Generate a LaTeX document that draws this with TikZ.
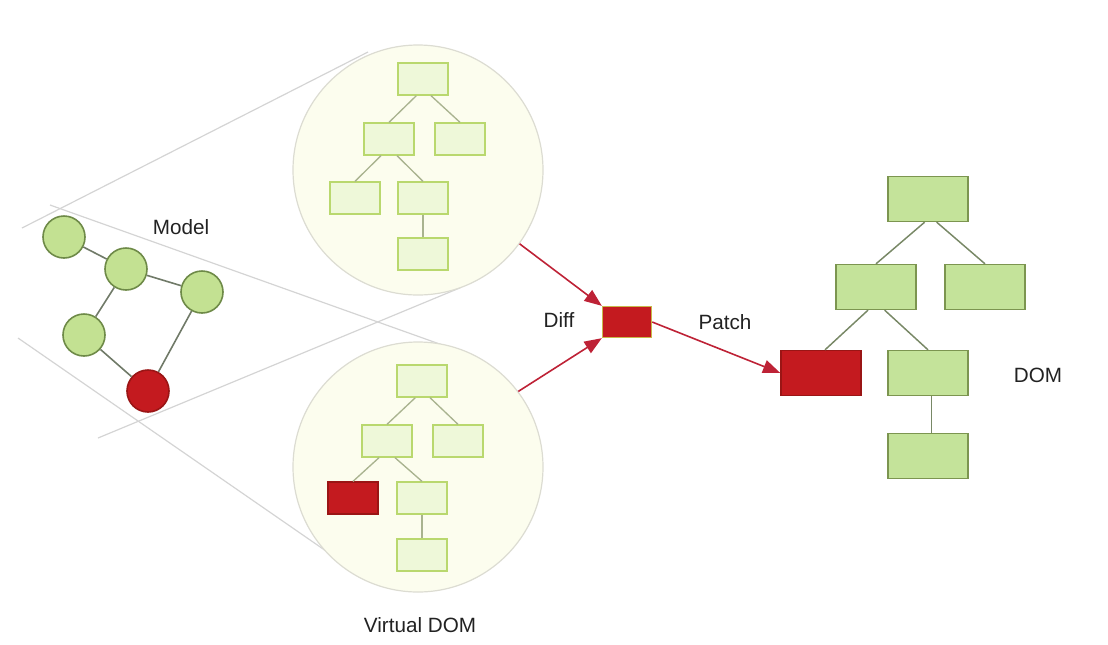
\documentclass[tikz,border=0pt]{standalone}
\usepackage{fontspec}
\setmainfont{Liberation Sans}
\usetikzlibrary{arrows.meta}
\definecolor{conegray}{HTML}{D4D4D4}
\definecolor{circgray}{HTML}{DCDCD2}
\definecolor{circfill}{HTML}{FCFDEE}
\definecolor{vborder}{HTML}{B9D86E}
\definecolor{vfill}{HTML}{EEF8D9}
\definecolor{vedgecol}{HTML}{A9B38F}
\definecolor{redfill}{HTML}{C41A1F}
\definecolor{redborder}{HTML}{9A1515}
\definecolor{dborder}{HTML}{7C9550}
\definecolor{dfill}{HTML}{C4E39A}
\definecolor{dedgecol}{HTML}{788866}
\definecolor{mborder}{HTML}{6E8A48}
\definecolor{mfill}{HTML}{C3E192}
\definecolor{medgecol}{HTML}{707A68}
\definecolor{arrowcol}{HTML}{BE2236}
\definecolor{diffborder}{HTML}{C8B84A}
\definecolor{textcol}{HTML}{222222}
\begin{document}
\begin{tikzpicture}[x=0.75pt,y=-0.75pt,
  cone/.style={draw=conegray, line width=0.9pt},
  bigcirc/.style={circle, draw=circgray, fill=circfill, line width=0.9pt, minimum size=187.5pt, inner sep=0pt},
  vbox/.style={rectangle, draw=vborder, fill=vfill, line width=1pt, minimum width=37.5pt, minimum height=24pt, inner sep=0pt},
  vred/.style={vbox, draw=redborder, fill=redfill},
  dbox/.style={rectangle, draw=dborder, fill=dfill, line width=1pt, minimum width=60pt, minimum height=33.75pt, inner sep=0pt},
  dred/.style={dbox, draw=redborder, fill=redfill},
  mnode/.style={circle, draw=mborder, fill=mfill, line width=1.2pt, minimum size=31.5pt, inner sep=0pt},
  mred/.style={mnode, draw=redborder, fill=redfill},
  medge/.style={draw=medgecol, line width=1.2pt},
  vedge/.style={draw=vedgecol, line width=1pt},
  dedge/.style={draw=dedgecol, line width=1.1pt},
  flow/.style={draw=arrowcol, line width=1.2pt, -{Triangle[length=13pt,width=10pt]}},
  lbl/.style={font=\fontsize{15.5}{18}\selectfont, text=textcol, inner sep=0pt}
]
\useasboundingbox (0,0) rectangle (1108,644);

% cone lines
\coordinate (l1a) at (22,228);
\coordinate (l1b) at (368,52);
\coordinate (l2a) at (50,205);
\coordinate (l2b) at (462,352);
\coordinate (l3a) at (98,438);
\coordinate (l3b) at (462,287);
\coordinate (l4a) at (18,338);
\coordinate (l4b) at (326,551);
\draw[cone] (l1a) -- (l1b);
\draw[cone] (l2a) -- (l2b);
\draw[cone] (l3a) -- (l3b);
\draw[cone] (l4a) -- (l4b);

% magnifier circles
\node[bigcirc] (vup) at (418,170) {};
\node[bigcirc] (vdown) at (418,467) {};

% model graph
\node[mnode] (c1) at (64,237) {};
\node[mnode] (c2) at (126,269) {};
\node[mnode] (c3) at (202,292) {};
\node[mnode] (c4) at (84,335) {};
\node[mred]  (c5) at (148,391) {};
\draw[medge] (c1) -- (c2);
\draw[medge] (c2) -- (c3);
\draw[medge] (c2) -- (c4);
\draw[medge] (c4) -- (c5);
\draw[medge] (c3) -- (c5);
\node[lbl] (model) at (181,227) {Model};

% upper virtual tree
\node[vbox] (ur) at (423,79) {};
\node[vbox] (uL) at (389,139) {};
\node[vbox] (uR) at (460,139) {};
\node[vbox] (uLL) at (355,198) {};
\node[vbox] (uLR) at (423,198) {};
\node[vbox] (uLRC) at (423,254) {};
\draw[vedge] ([xshift=-5pt]ur.south) -- (uL.north);
\draw[vedge] ([xshift=6pt]ur.south) -- (uR.north);
\draw[vedge] ([xshift=-6pt]uL.south) -- (uLL.north);
\draw[vedge] ([xshift=6pt]uL.south) -- (uLR.north);
\draw[vedge] (uLR.south) -- (uLRC.north);

% lower virtual tree
\node[vbox] (wr) at (422,381) {};
\node[vbox] (wL) at (387,441) {};
\node[vbox] (wR) at (458,441) {};
\node[vred] (wLL) at (353,498) {};
\node[vbox] (wLR) at (422,498) {};
\node[vbox] (wLRC) at (422,555) {};
\draw[vedge] ([xshift=-5pt]wr.south) -- (wL.north);
\draw[vedge] ([xshift=6pt]wr.south) -- (wR.north);
\draw[vedge] ([xshift=-6pt]wL.south) -- (wLL.north);
\draw[vedge] ([xshift=6pt]wL.south) -- (wLR.north);
\draw[vedge] (wLR.south) -- (wLRC.north);
\node[lbl] (vdomlbl) at (420,625) {Virtual DOM};

% diff
\node[rectangle, draw=diffborder, fill=redfill, line width=1pt, minimum width=36.75pt, minimum height=23.25pt, inner sep=0pt] (diff) at (627,322) {};
\node[lbl] (difflbl) at (559,320) {Diff};
\node[lbl] (patchlbl) at (725,322) {Patch};

% real DOM tree
\node[dbox] (dr) at (928,199) {};
\node[dbox] (dL) at (876,287) {};
\node[dbox] (dR) at (985,287) {};
\node[dred] (dLL) at (821,373) {};
\node[dbox] (dLR) at (928,373) {};
\node[dbox] (dLRC) at (928,456) {};
\draw[dedge] ([xshift=-2.5pt]dr.south) -- (dL.north);
\draw[dedge] ([xshift=6.5pt]dr.south) -- (dR.north);
\draw[dedge] ([xshift=-6pt]dL.south) -- ([xshift=3pt]dLL.north);
\draw[dedge] ([xshift=6.5pt]dL.south) -- (dLR.north);
\draw[dedge] ([xshift=2.5pt]dLR.south) -- ([xshift=2.5pt]dLRC.north);
\node[lbl] (domlbl) at (1038,375) {DOM};

% flow arrows
\draw[flow] (vup.-36) -- (diff.north west);
\draw[flow] (vdown.37) -- (diff.south west);
\draw[flow] (diff.east) -- (dLL.west);
\end{tikzpicture}
\end{document}
